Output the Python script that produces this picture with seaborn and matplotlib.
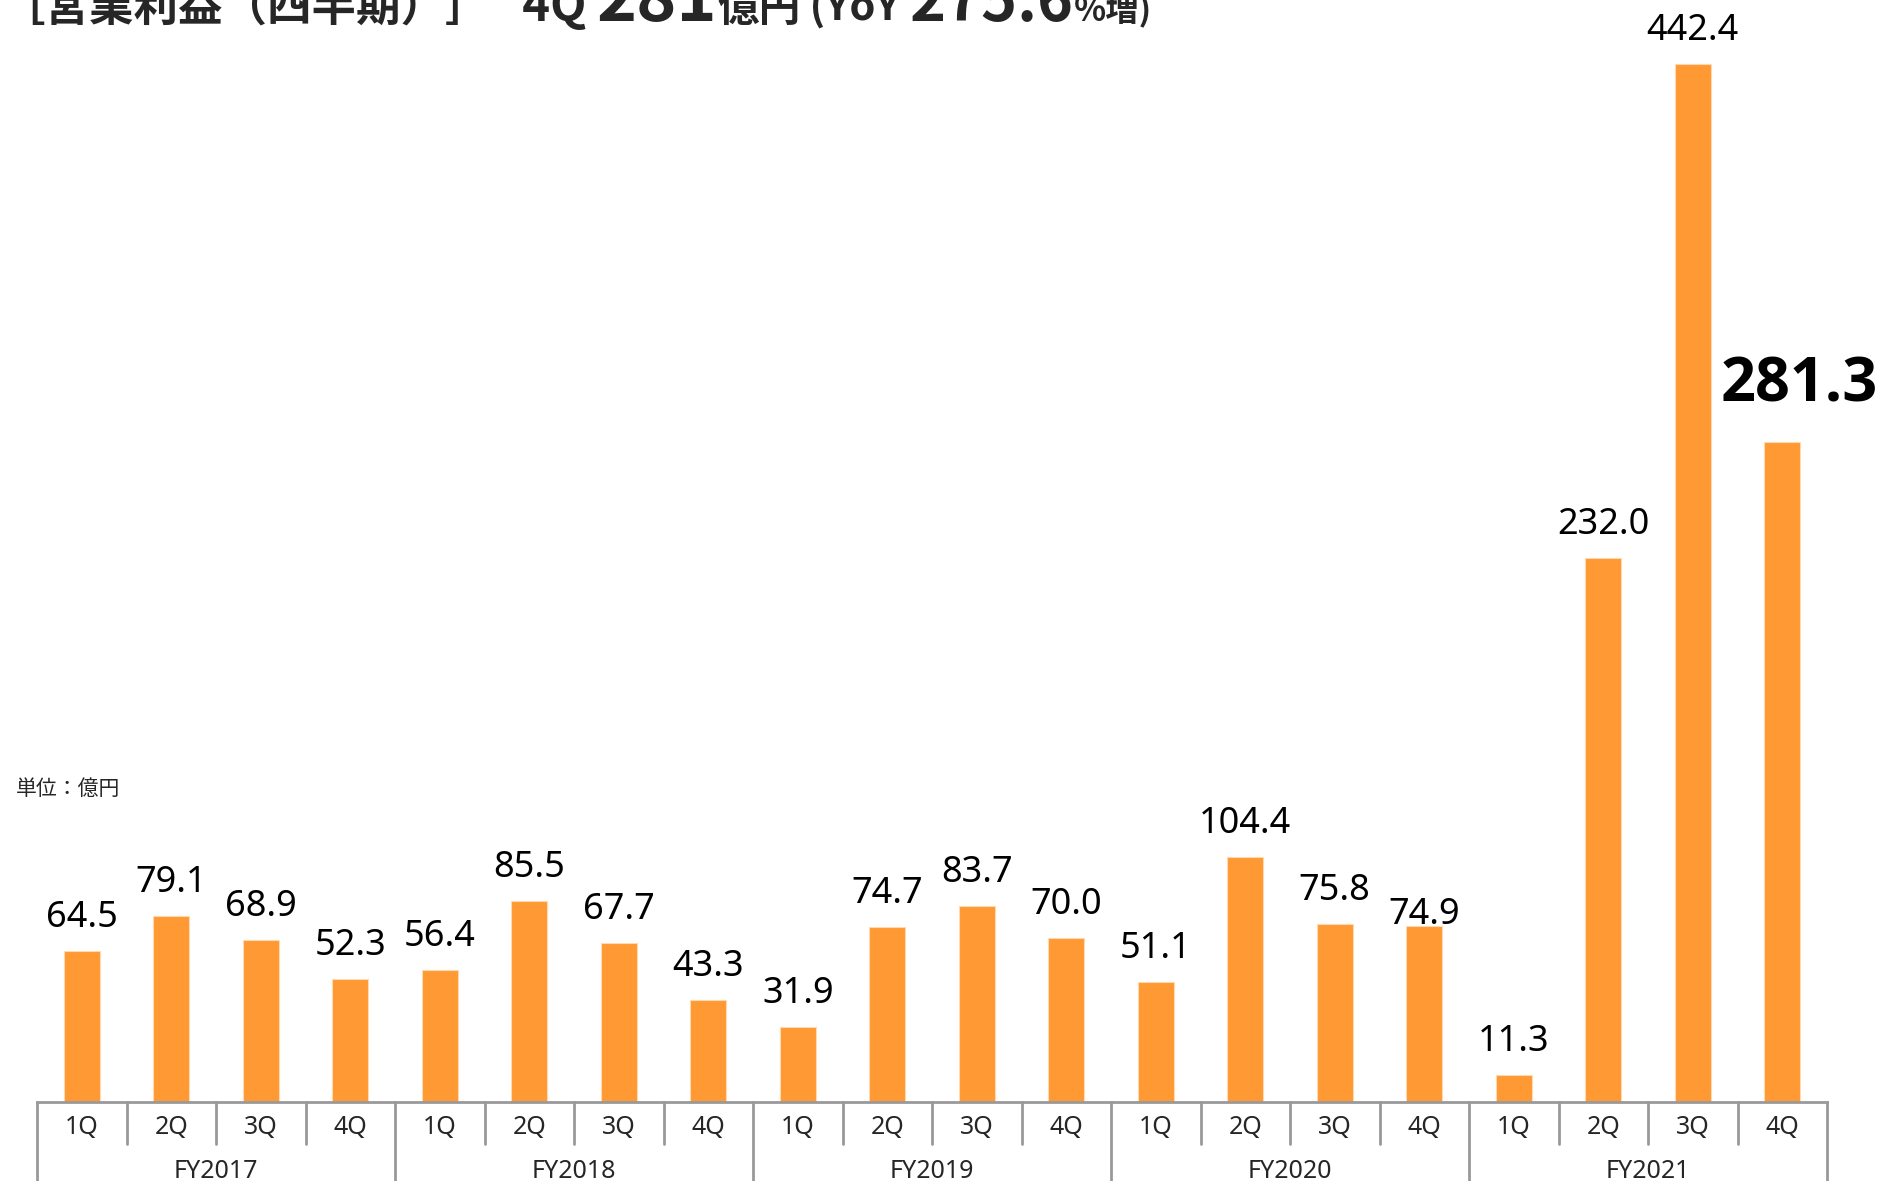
import matplotlib
matplotlib.use("Agg")
import matplotlib.pyplot as plt
import matplotlib.transforms as mtransforms
import seaborn as sns
import pandas as pd

# data (unit: 億円)
years = ["FY2017", "FY2018", "FY2019", "FY2020", "FY2021"]
quarters = ["1Q", "2Q", "3Q", "4Q"]
profit = [64.5, 79.1, 68.9, 52.3,
          56.4, 85.5, 67.7, 43.3,
          31.9, 74.7, 83.7, 70.0,
          51.1, 104.4, 75.8, 74.9,
          11.3, 232.0, 442.4, 281.3]

title_parts = ["［営業利益（四半期）］", "   4Q ", "281", "億円", " (YoY ", "275.6", "%増)"]
unit_label = "単位：億円"

df = pd.DataFrame({
    "period": [f"{y} {q}" for y in years for q in quarters],
    "year": [y for y in years for q in quarters],
    "quarter": [q for y in years for q in quarters],
    "profit": profit,
})

sns.set_theme(style="white")
plt.rcParams["font.family"] = ["Noto Sans", "Noto Sans CJK JP", "DejaVu Sans"]
jp = ["Noto Sans CJK JP", "DejaVu Sans"]

W, H = 1887, 1181
fig = plt.figure(figsize=(W / 100, H / 100), dpi=100)
ax_left, ax_right, ax_bottom = 37, 1827, 1102
ax = fig.add_axes([ax_left / W, (H - ax_bottom) / H, (ax_right - ax_left) / W, ax_bottom / H])

sns.barplot(data=df, x="period", y="profit", color="#FF9933", saturation=1,
            width=0.4, edgecolor="#FFD9B0", linewidth=0.8, ax=ax)

ppu = 1038 / 442.4  # pixels per unit
ax.set_ylim(0, ax_bottom / ppu)
ax.set_xlim(-0.5, len(df) - 0.5)
ax.set_xlabel("")
ax.set_ylabel("")
ax.set_xticks([])
ax.set_yticks([])
for s in ["top", "right", "left"]:
    ax.spines[s].set_visible(False)
ax.spines["bottom"].set_color("#999999")
ax.spines["bottom"].set_linewidth(2)

# value labels
for i, v in enumerate(df["profit"]):
    if i == len(df) - 1:
        ax.annotate(f"{v:.1f}", (i, v), xytext=(17, 56), textcoords="offset pixels",
                    ha="center", va="center", fontsize=44, fontweight="bold",
                    family=["Open Sans", "DejaVu Sans"], color="black")
    else:
        dy = 11 if df["period"][i] == "FY2020 4Q" else 33
        ax.annotate(f"{v:.1f}", (i, v), xytext=(0, dy), textcoords="offset pixels",
                    ha="center", va="center", fontsize=26, color="black")

# two-level category axis below the plot
trans = mtransforms.blended_transform_factory(ax.transData, ax.transAxes)
px = 1.0 / ax_bottom
for k in range(len(df) + 1):
    y_end = -79 * px if k % 4 == 0 else -42 * px
    ax.plot([k - 0.5, k - 0.5], [0, y_end], transform=trans, color="#999999",
            lw=2, clip_on=False)
for i, q in enumerate(df["quarter"]):
    ax.text(i, -26 * px, q, transform=trans, ha="center", va="center", fontsize=18)
for j, y in enumerate(years):
    ax.text(j * 4 + 1.5, -69 * px, y, transform=trans, ha="center", va="center", fontsize=18)

fig.text(16 / W, 1 - 789 / H, unit_label, family=jp, fontsize=15, va="center", ha="left")

# title, partly cut off at the top edge as in the reference
sizes = [32, 34, 49, 30, 30, 44, 24]
fig.canvas.draw()
renderer = fig.canvas.get_renderer()
x = 0
base_y = 1 - 21 / H
for txt, fs in zip(title_parts, sizes):
    t = fig.text(x, base_y, txt, family=jp, fontsize=fs, fontweight="bold",
                 va="baseline", ha="left")
    bb = t.get_window_extent(renderer)
    x += bb.width / W

fig.savefig("out.png", dpi=100)
